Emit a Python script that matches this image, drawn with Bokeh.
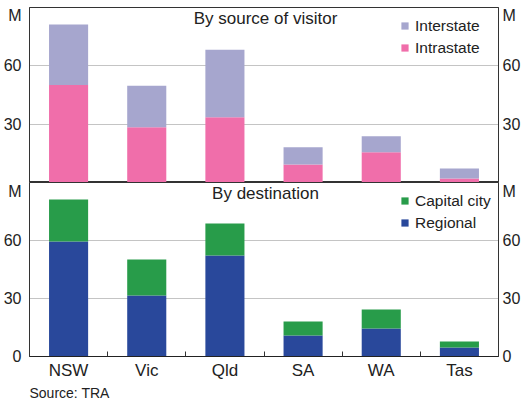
from bokeh.plotting import figure
from bokeh.models import (Range1d, FixedTicker, LinearAxis, Label, Legend,
                          LegendItem, ColumnDataSource, Title)
from bokeh.layouts import column
from bokeh.embed import file_html
from bokeh.resources import INLINE

# ---- data (millions of visitors) ----
states = ["NSW", "Vic", "Qld", "SA", "WA", "Tas"]
intrastate = [50.2, 28.4, 33.6, 9.3, 15.5, 2.1]
interstate = [31.0, 21.3, 34.7, 8.8, 8.3, 5.1]
regional = [59.5, 31.6, 52.2, 10.9, 14.5, 4.7]
capital_city = [21.7, 18.6, 16.6, 7.2, 9.8, 3.1]
y_ticks_top = [30, 60]
y_ticks_bottom = [0, 30, 60]
unit_label = "M"
y_max = 90

FONT = "Liberation Sans"
TXT = "#222222"
C_INTER = "#A6A6CE"
C_INTRA = "#F06EAA"
C_CAP = "#289C4A"
C_REG = "#29489B"

W = 523
FH_TOP = 175
FH_BOT = 174
ML = 29

xs = [i + 0.5 for i in range(len(states))]


def base_fig(height, top_border, bottom_border, xaxis):
    p = figure(width=W, height=height, output_backend="svg", toolbar_location=None,
               x_range=Range1d(0, len(states)), y_range=Range1d(0, y_max),
               x_axis_location="below" if xaxis else None,
               min_border_left=ML, min_border_right=0,
               min_border_top=top_border, min_border_bottom=bottom_border)
    p.outline_line_color = "#333333"
    p.outline_line_width = 1
    p.xgrid.visible = False
    p.background_fill_color = "white"
    p.border_fill_color = "white"
    return p


def style_yaxis(ax, ticks, fh, standoff):
    # unit label sits just below the top of the panel
    m_pos = y_max - 7.5 * y_max / fh
    ax.ticker = FixedTicker(ticks=ticks + [m_pos])
    ax.major_label_overrides = {m_pos: unit_label}
    ax.major_tick_in = 0
    ax.major_tick_out = 0
    ax.minor_tick_line_color = None
    ax.minor_tick_in = 0
    ax.minor_tick_out = 0
    ax.axis_line_color = "#333333"
    ax.axis_line_width = 1
    ax.major_label_standoff = standoff
    ax.major_label_text_font = FONT
    ax.major_label_text_font_size = "16px"
    ax.major_label_text_color = TXT


def decorate(p, ticks, title, fh):
    style_yaxis(p.yaxis[0], ticks, fh, 8)
    rax = LinearAxis()
    style_yaxis(rax, ticks, fh, 4)
    p.add_layout(rax, "right")
    p.ygrid.ticker = FixedTicker(ticks=[t for t in ticks if t > 0])
    p.ygrid.grid_line_color = "#C4C4C4"
    p.ygrid.grid_line_width = 1
    p.add_layout(Label(x=236, x_units="screen", y=y_max, y_units="data",
                       text=title, text_align="center", text_baseline="top",
                       y_offset=-1, text_font=FONT, text_font_size="17px",
                       text_color=TXT))


def add_legend(p, items, fh):
    lg = Legend(items=items, location=(371, fh - 50), padding=0, margin=0,
                glyph_width=9, glyph_height=9, label_height=19, spacing=3,
                label_standoff=6, border_line_color=None,
                background_fill_alpha=0, label_text_font=FONT,
                label_text_font_size="15.5px", label_text_color=TXT)
    p.add_layout(lg)


# ---- top panel ----
src_top = ColumnDataSource(dict(x=xs, intra=intrastate,
                                total=[a + b for a, b in zip(intrastate, interstate)]))
p1 = base_fig(FH_TOP + 7, 7, 0, False)
r_intra = p1.vbar(x="x", bottom=0, top="intra", width=0.5, source=src_top,
                  fill_color=C_INTRA, line_color=None)
r_inter = p1.vbar(x="x", bottom="intra", top="total", width=0.5, source=src_top,
                  fill_color=C_INTER, line_color=None)
decorate(p1, y_ticks_top, "By source of visitor", FH_TOP)
add_legend(p1, [LegendItem(label="Interstate", renderers=[r_inter]),
                LegendItem(label="Intrastate", renderers=[r_intra])], FH_TOP)

# ---- bottom panel ----
src_bot = ColumnDataSource(dict(x=xs, reg=regional,
                                total=[a + b for a, b in zip(regional, capital_city)]))
BB = 44
p2 = base_fig(FH_BOT + BB, 0, BB, True)
r_reg = p2.vbar(x="x", bottom=0, top="reg", width=0.5, source=src_bot,
                fill_color=C_REG, line_color=None)
r_cap = p2.vbar(x="x", bottom="reg", top="total", width=0.5, source=src_bot,
                fill_color=C_CAP, line_color=None)
decorate(p2, y_ticks_bottom, "By destination", FH_BOT)
add_legend(p2, [LegendItem(label="Capital city", renderers=[r_cap]),
                LegendItem(label="Regional", renderers=[r_reg])], FH_BOT)

xa = p2.xaxis[0]
xa.ticker = FixedTicker(ticks=xs, minor_ticks=list(range(1, len(states))))
xa.major_label_overrides = {x: s for x, s in zip(xs, states)}
xa.major_tick_line_color = None
xa.major_tick_in = 0
xa.major_tick_out = 0
xa.minor_tick_in = 5
xa.minor_tick_out = 0
xa.minor_tick_line_color = "#333333"
xa.axis_line_color = "#222222"
xa.axis_line_width = 1
xa.major_label_standoff = 4
xa.major_label_text_font = FONT
xa.major_label_text_font_size = "17px"
xa.major_label_text_color = TXT

p2.add_layout(Title(text="Source: TRA", align="left", text_font=FONT,
                    text_font_size="14px", text_font_style="normal",
                    text_color=TXT, standoff=0, offset=0), "below")

layout = column(p1, p2, spacing=0)
open("out.html", "w").write(file_html(layout, INLINE))
